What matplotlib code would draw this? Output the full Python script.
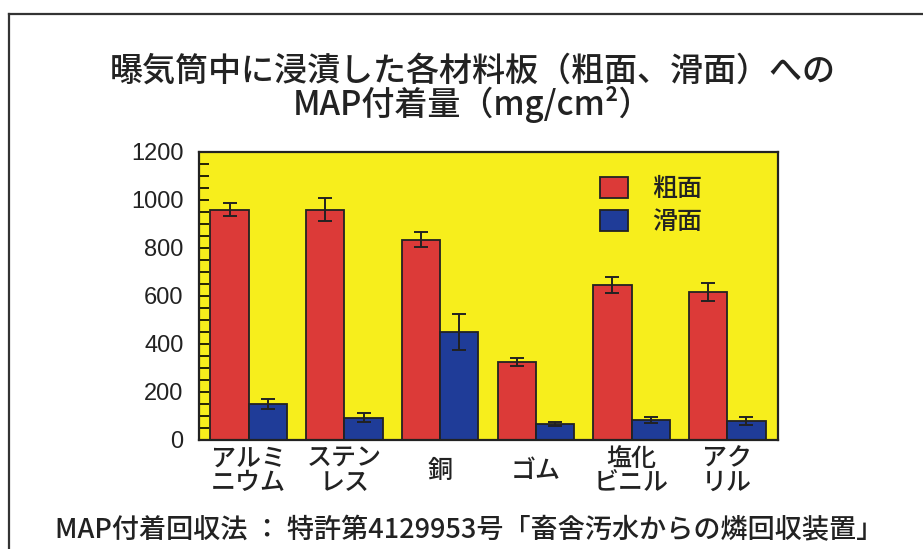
import matplotlib
matplotlib.use("Agg")
import matplotlib.pyplot as plt
from matplotlib.ticker import MultipleLocator
import numpy as np

plt.rcParams['font.family'] = ['Noto Sans CJK JP', 'DejaVu Sans']

categories = ["アルミ\nニウム", "ステン\nレス", "銅", "ゴム", "塩化\nビニル", "アク\nリル"]
rough = [960, 960, 835, 325, 645, 617]
rough_err = [28, 47, 32, 15, 34, 38]
smooth = [150, 93, 450, 65, 83, 80]
smooth_err = [22, 20, 75, 8, 13, 16]
series_labels = ["粗面", "滑面"]
yticks = [0, 200, 400, 600, 800, 1000, 1200]

title_text = "曝気筒中に浸漬した各材料板（粗面、滑面）への\nMAP付着量（mg/cm²）"
footer_text = "MAP付着回収法 ： 特許第4129953号「畜舎汚水からの燐回収装置」"

W, H = 923, 549
fig = plt.figure(figsize=(W / 100, H / 100), dpi=100)

# frame (top and left lines)
fig.add_artist(plt.Line2D([9 / W, 1.0], [1 - 14 / H, 1 - 14 / H], color='#333333', lw=1.6))
fig.add_artist(plt.Line2D([9 / W, 9 / W], [1 - 14 / H, 0.0], color='#333333', lw=1.6))

ax = fig.add_axes([199 / W, (H - 440) / H, 579 / W, 288 / H])
ax.set_facecolor('#f7ee1c')

x = np.arange(len(categories))
bw = 0.4
red = '#dc3a38'
blue = '#1f3c98'
ax.bar(x - bw / 2, rough, bw, color=red, edgecolor='#222222', linewidth=1.3,
       label=series_labels[0], zorder=2)
ax.bar(x + bw / 2, smooth, bw, color=blue, edgecolor='#222222', linewidth=1.3,
       label=series_labels[1], zorder=2)
ax.errorbar(x - bw / 2, rough, yerr=rough_err, fmt='none', ecolor='#222222',
            elinewidth=1.4, capsize=5, capthick=1.4, zorder=3)
ax.errorbar(x + bw / 2, smooth, yerr=smooth_err, fmt='none', ecolor='#222222',
            elinewidth=1.4, capsize=5, capthick=1.4, zorder=3)

ax.set_xlim(-0.52, 5.53)
ax.set_ylim(0, 1200)
ax.set_yticks(yticks)
ax.yaxis.set_minor_locator(MultipleLocator(50))
ax.tick_params(axis='y', which='both', direction='in', length=7, width=1.2, pad=11)
ax.set_yticklabels([str(v) for v in yticks], fontsize=17, family='Liberation Sans',
                   color='#222222')
ax.set_xticks(x)
ax.set_xticklabels(categories, fontsize=18, va='center', linespacing=0.9,
                   color='#222222', fontweight='medium')
ax.tick_params(axis='x', which='both', length=0, pad=22)
for s in ax.spines.values():
    s.set_linewidth(1.6)
    s.set_color('#222222')

leg = ax.legend(loc='upper left', bbox_to_anchor=((600 - 199) / 579, (440 - 176) / 288),
                frameon=False, handlelength=1.12, handleheight=0.9,
                handletextpad=0.95, labelspacing=0.3, borderpad=0, borderaxespad=0,
                prop={'size': 18, 'weight': 'medium'})
for t in leg.get_texts():
    t.set_color('#222222')

fig.text(473 / W, 1 - 88 / H, title_text, ha='center', va='center', fontsize=23.8,
         linespacing=0.9, color='#222222', fontweight='medium')
fig.text(55 / W, 1 - 531 / H, footer_text, ha='left', va='center', fontsize=19.5,
         color='#222222', fontweight='medium')

fig.savefig('out.png', dpi=100)
